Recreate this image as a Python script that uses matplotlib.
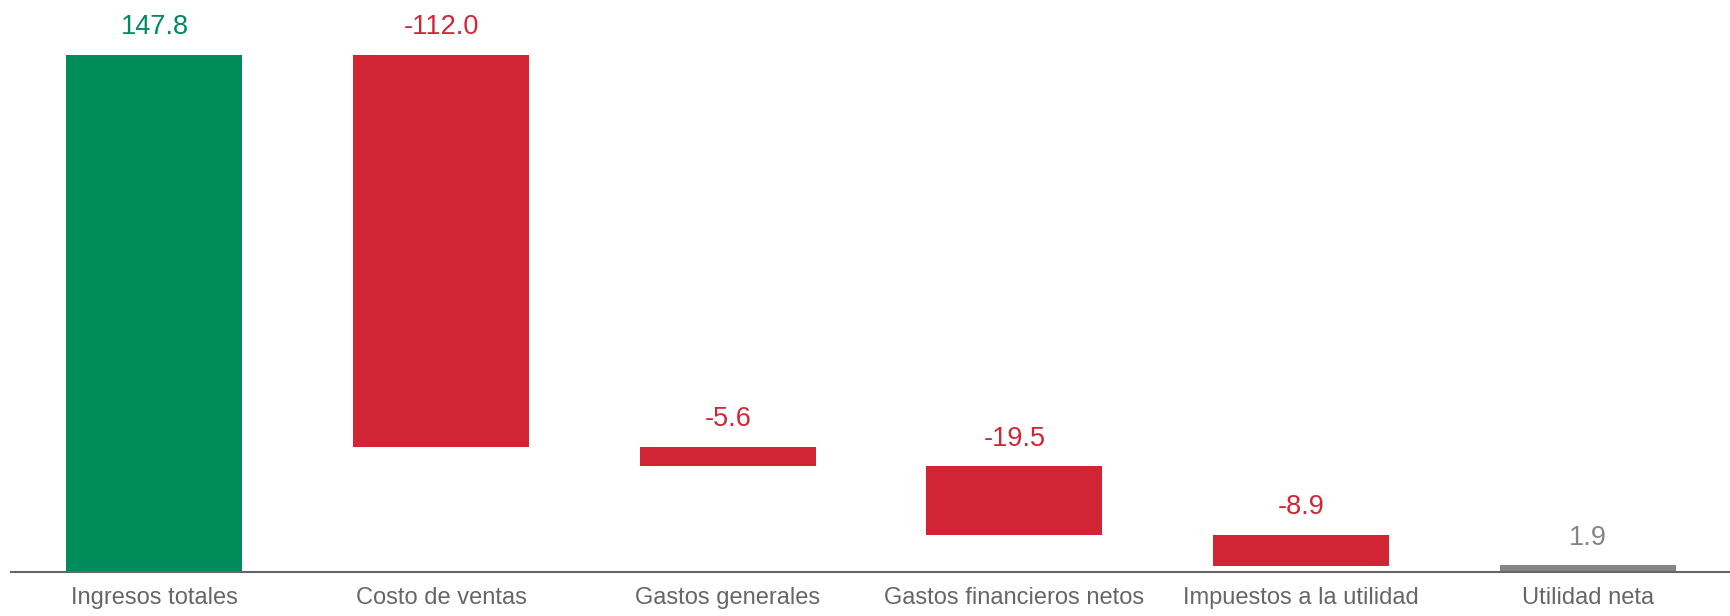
import matplotlib
matplotlib.use("Agg")
import matplotlib.pyplot as plt

plt.rcParams['font.family'] = ['Liberation Sans', 'DejaVu Sans']

categorias = ["Ingresos totales", "Costo de ventas", "Gastos generales",
              "Gastos financieros netos", "Impuestos a la utilidad", "Utilidad neta"]
valores = [147.8, -112.0, -5.6, -19.5, -8.9, 1.9]
tipo = ["total", "delta", "delta", "delta", "delta", "total"]

verde = "#008C5A"
rojo = "#D12536"
gris = "#858585"

fig = plt.figure(figsize=(17.31, 6.16), dpi=100)
ax = fig.add_axes([0.0064, 0.0714, 0.9936, 0.9286])

acum = 0
for i, (v, t) in enumerate(zip(valores, tipo)):
    if i == 0:
        base, alto, color = 0, v, verde
        acum = v
    elif t == "total":
        base, alto, color = 0, v, gris
    else:
        base, alto, color = acum + v, -v, rojo
        acum += v
    ax.bar(i, alto, bottom=base, width=0.614, color=color)
    tope = base + alto
    ax.annotate(f"{v:.1f}", (i, tope), xytext=(0, 15), textcoords="offset points",
                ha="center", va="baseline", fontsize=19.5, color=color)

ax.set_xlim(-0.5, 5.5)
ax.set_ylim(0, 163.5)
ax.set_xticks(range(len(categorias)))
ax.set_xticklabels(categorias, fontsize=17, color="#666666")
ax.tick_params(axis="x", length=0, pad=11)
ax.set_yticks([])
for s in ["top", "left", "right"]:
    ax.spines[s].set_visible(False)
ax.spines["bottom"].set_color("#666666")
ax.spines["bottom"].set_linewidth(1.5)

fig.savefig("out.png", dpi=100)
